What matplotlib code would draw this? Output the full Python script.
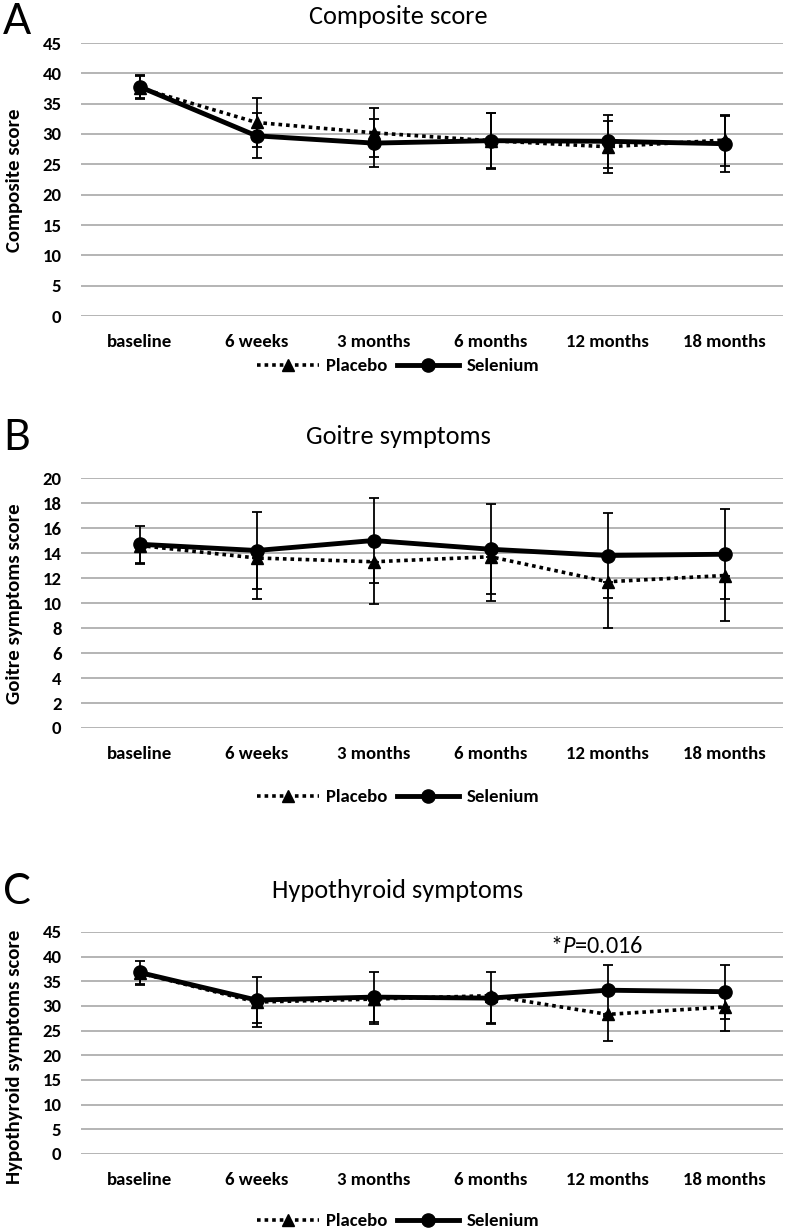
import matplotlib
matplotlib.use("Agg")
import matplotlib.pyplot as plt
import numpy as np

# time points
timepoints = ['baseline', '6 weeks', '3 months', '6 months', '12 months', '18 months']

# A - composite score
comp_placebo = [37.6, 31.9, 30.2, 28.9, 27.9, 29.0]
comp_placebo_sd = [1.9, 4.1, 4.05, 4.6, 4.3, 4.2]
comp_selenium = [37.8, 29.7, 28.5, 28.9, 28.8, 28.4]
comp_selenium_sd = [1.9, 3.7, 3.9, 4.5, 4.35, 4.6]

# B - goitre symptoms
goit_placebo = [14.6, 13.6, 13.3, 13.7, 11.7, 12.2]
goit_placebo_sd = [1.5, 3.3, 3.4, 3.5, 3.7, 3.6]
goit_selenium = [14.7, 14.2, 15.0, 14.3, 13.8, 13.9]
goit_selenium_sd = [1.5, 3.1, 3.4, 3.6, 3.4, 3.6]

# C - hypothyroid symptoms
hypo_placebo = [36.7, 30.8, 31.4, 32.1, 28.3, 29.8]
hypo_placebo_sd = [2.4, 5.1, 5.0, 5.6, 5.3, 4.8]
hypo_selenium = [36.8, 31.2, 31.8, 31.6, 33.2, 32.9]
hypo_selenium_sd = [2.4, 4.6, 5.1, 5.2, 5.2, 5.5]

CAL = ['Carlito', 'DejaVu Sans']
LETTER = ['Lato', 'Liberation Sans', 'DejaVu Sans']

plt.rcParams['mathtext.fontset'] = 'custom'
plt.rcParams['mathtext.it'] = 'Carlito:italic'
plt.rcParams['mathtext.rm'] = 'Carlito'

fig = plt.figure(figsize=(7.93, 12.31), dpi=100)
H = 1231.0
W = 793.0


def panel(top, bottom, ymax, ystep, pl, pl_sd, se, se_sd, letter, title,
          title_y, letter_y, ylabel, ylabel_y, legend_y, placebo_both=True):
    ax = fig.add_axes([81 / W, 1 - bottom / H, 702 / W, (bottom - top) / H])
    x = np.arange(len(timepoints))
    if placebo_both:
        pl_err = pl_sd
    else:
        pl_err = [pl_sd, [0] * len(pl_sd)]
    ax.errorbar(x, pl, yerr=pl_err, fmt='none', ecolor='black', capsize=3.8,
                elinewidth=1.3, capthick=1.3, zorder=3)
    ax.errorbar(x, se, yerr=se_sd, fmt='none', ecolor='black', capsize=3.8,
                elinewidth=1.3, capthick=1.3, zorder=3)
    ax.plot(x, pl, color='black', ls=(0, (1, 1.1)), lw=2.6, marker='^',
            ms=8, label='Placebo', zorder=4)
    ax.plot(x, se, color='black', ls='-', lw=3.5, marker='o', ms=9.5,
            label='Selenium', zorder=5)
    ax.set_xlim(-0.5, len(timepoints) - 0.5)
    ax.set_ylim(0, ymax)
    ax.set_yticks(np.arange(0, ymax + 0.1, ystep))
    ax.set_xticks(x)
    ax.set_xticklabels(timepoints, family=CAL, fontsize=13.5, fontweight='bold')
    for t in ax.get_yticklabels():
        t.set_family(CAL)
        t.set_fontsize(13.5)
        t.set_fontweight('bold')
    ax.tick_params(axis='y', length=0, pad=14)
    ax.tick_params(axis='x', length=0, pad=13)
    ax.yaxis.grid(True, color='#b4b4b4', lw=1.4)
    ax.set_axisbelow(True)
    for s in ax.spines.values():
        s.set_visible(False)
    fig.text(398 / W, 1 - title_y / H, title, ha='center', va='center',
             family=CAL, fontsize=19)
    fig.text(3 / W, 1 - letter_y / H, letter, ha='left', va='center',
             family=LETTER, fontweight='normal', fontsize=30)
    fig.text(15 / W, 1 - ylabel_y / H, ylabel, rotation=90, ha='center',
             va='center', family=CAL, fontsize=15, fontweight='bold')
    ax.legend(loc='center', bbox_to_anchor=(398 / W, 1 - legend_y / H),
              bbox_transform=fig.transFigure, ncol=2, frameon=False,
              prop={'family': CAL, 'size': 13.5, 'weight': 'bold'},
              handlelength=3.3, columnspacing=0.5, handletextpad=0.4)
    return ax


panel(43, 316, 45, 5, comp_placebo, comp_placebo_sd, comp_selenium,
      comp_selenium_sd, 'A', 'Composite score', 17, 22, 'Composite score',
      180, 366)
panel(478, 728, 20, 2, goit_placebo, goit_placebo_sd, goit_selenium,
      goit_selenium_sd, 'B', 'Goitre symptoms', 437, 438,
      'Goitre symptoms score', 604, 797, placebo_both=False)
axc = panel(932, 1154, 45, 5, hypo_placebo, hypo_placebo_sd, hypo_selenium,
            hypo_selenium_sd, 'C', 'Hypothyroid symptoms', 890, 892,
            'Hypothyroid symptoms score', 1057, 1221, placebo_both=False)

axc.text(3.91, 42.0, r'*$P$=0.016', ha='center', va='center', family=CAL,
         fontsize=17.5)

fig.savefig('out.png', dpi=100)
